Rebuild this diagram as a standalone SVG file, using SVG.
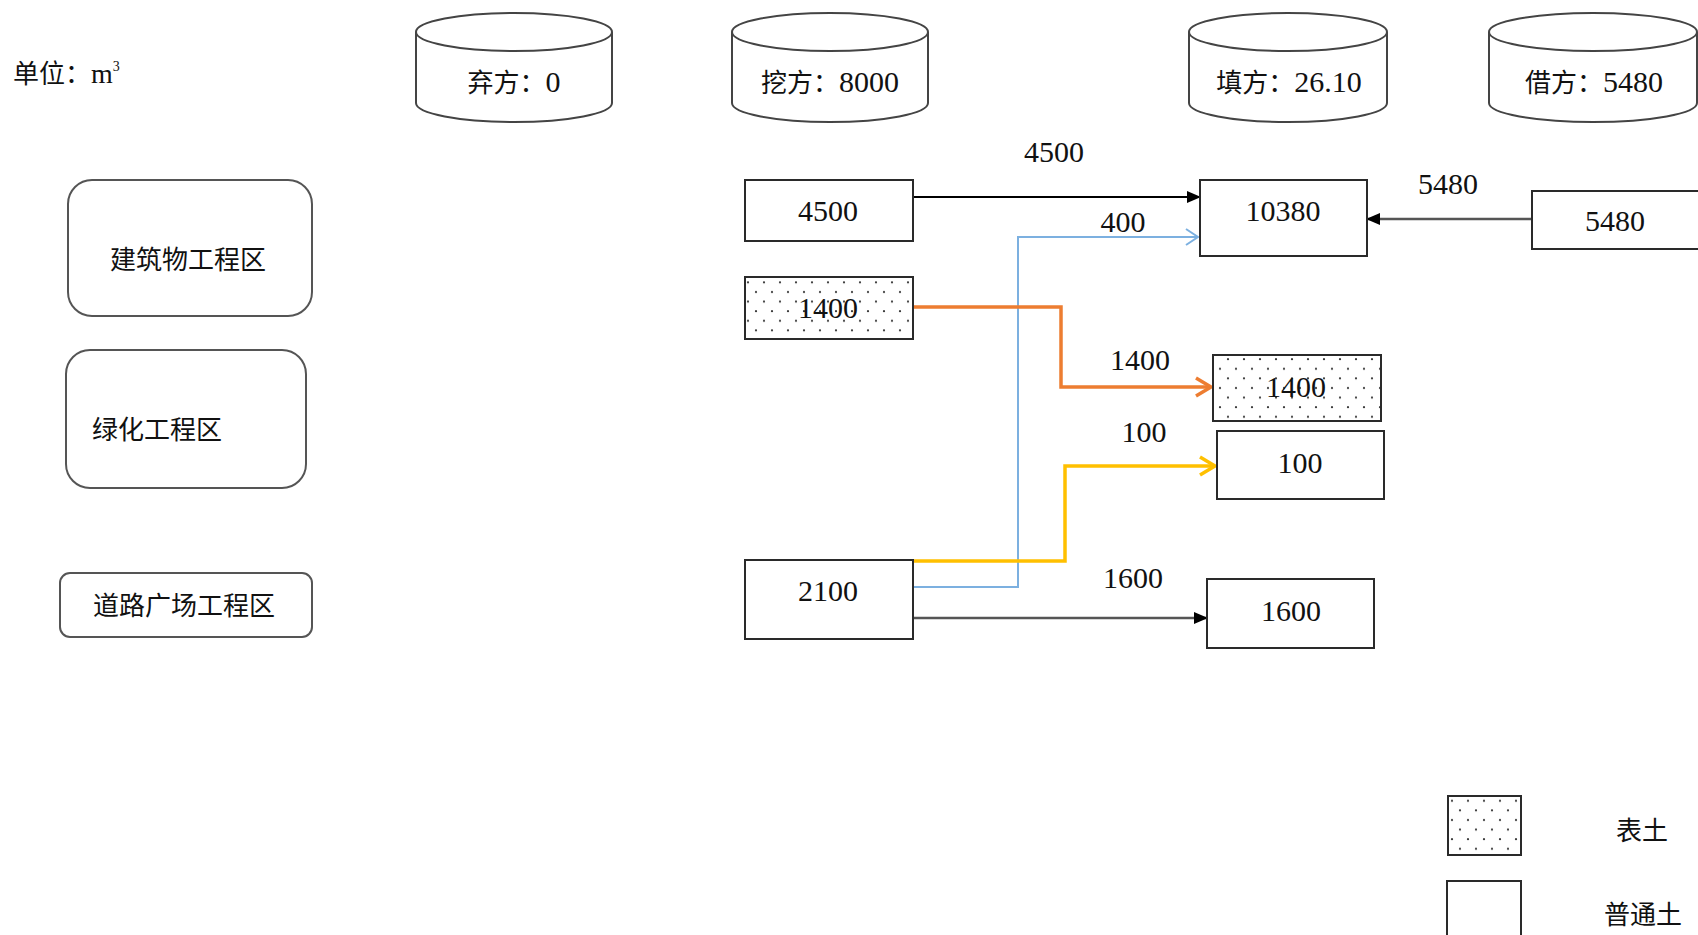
<svg xmlns="http://www.w3.org/2000/svg" width="1698" height="935" viewBox="0 0 1698 935">
<style>
.t{font-family:"Liberation Serif","Noto Sans CJK SC",serif;fill:#111;}
.n{font-size:30px;text-anchor:middle;}
.c{font-size:26px;}
.d{font-size:30px;}
.box{fill:#fff;stroke:#2a2a2a;stroke-width:2;}
.dot{fill:url(#dots);stroke:#2a2a2a;stroke-width:2;}
.rr{fill:#fff;stroke:#555;stroke-width:2;}
.cyl{fill:#fff;stroke:#444;stroke-width:2;}
</style>
<defs>
<pattern id="dots" width="16" height="19.2" patternUnits="userSpaceOnUse">
<rect width="16" height="19.2" fill="#fff"/>
<circle cx="4" cy="4" r="1.1" fill="#333"/>
<circle cx="12" cy="13.6" r="1.1" fill="#333"/>
</pattern>
<marker id="fa" markerWidth="14" markerHeight="14" refX="13" refY="7" orient="auto" markerUnits="userSpaceOnUse">
<path d="M0,1 L14,7 L0,13 Z" fill="#000"/>
</marker>
<marker id="ob" markerWidth="16" markerHeight="20" refX="14" refY="10" orient="auto" markerUnits="userSpaceOnUse">
<path d="M2,2 L14,10 L2,18" fill="none" stroke="#7CB0E0" stroke-width="2"/>
</marker>
<marker id="oo" markerWidth="20" markerHeight="22" refX="17" refY="11" orient="auto" markerUnits="userSpaceOnUse">
<path d="M2,2 L17,11 L2,20" fill="none" stroke="#ED7D31" stroke-width="3.5"/>
</marker>
<marker id="oy" markerWidth="20" markerHeight="22" refX="17" refY="11" orient="auto" markerUnits="userSpaceOnUse">
<path d="M2,2 L17,11 L2,20" fill="none" stroke="#FFC000" stroke-width="3.5"/>
</marker>
</defs>
<rect width="1698" height="935" fill="#fff"/>

<g id="unit"><text class="t c" x="13" y="83">单位：<tspan font-size="28">m</tspan><tspan font-size="14" dy="-12">3</tspan></text></g>

<g id="cyl-qi"><path class="cyl" d="M416,32 L416,103 A98,19 0 0,0 612,103 L612,32 A98,19 0 0,0 416,32 A98,19 0 0,0 612,32"/><text class="t c" x="514" y="92" text-anchor="middle">弃方：<tspan class="d">0</tspan></text></g>
<g id="cyl-wa"><path class="cyl" d="M732,32 L732,103 A98,19 0 0,0 928,103 L928,32 A98,19 0 0,0 732,32 A98,19 0 0,0 928,32"/><text class="t c" x="830" y="92" text-anchor="middle">挖方：<tspan class="d">8000</tspan></text></g>
<g id="cyl-tian"><path class="cyl" d="M1189,32 L1189,103 A99,19 0 0,0 1387,103 L1387,32 A99,19 0 0,0 1189,32 A99,19 0 0,0 1387,32"/><text class="t c" x="1289" y="92" text-anchor="middle">填方：<tspan class="d">26.10</tspan></text></g>
<g id="cyl-jie"><path class="cyl" d="M1489,32 L1489,103 A104,19 0 0,0 1697,103 L1697,32 A104,19 0 0,0 1489,32 A104,19 0 0,0 1697,32"/><text class="t c" x="1594" y="92" text-anchor="middle">借方：<tspan class="d">5480</tspan></text></g>

<g id="zone-building"><rect class="rr" x="68" y="180" width="244" height="136" rx="24"/><text class="t c" x="188" y="269" text-anchor="middle">建筑物工程区</text></g>
<g id="zone-green"><rect class="rr" x="66" y="350" width="240" height="138" rx="24"/><text class="t c" x="92" y="439">绿化工程区</text></g>
<g id="zone-road"><rect class="rr" x="60" y="573" width="252" height="64" rx="10"/><text class="t c" x="184" y="615" text-anchor="middle">道路广场工程区</text></g>

<g id="connectors" fill="none">
<line x1="913" y1="197" x2="1200" y2="197" stroke="#000" stroke-width="2" marker-end="url(#fa)"/>
<line x1="1532" y1="219" x2="1367" y2="219" stroke="#555" stroke-width="2.5" marker-end="url(#fa)"/>
<polyline points="913,587 1018,587 1018,237 1198,237" stroke="#7CB0E0" stroke-width="2" marker-end="url(#ob)"/>
<polyline points="913,307 1061,307 1061,387 1211,387" stroke="#ED7D31" stroke-width="3.5" marker-end="url(#oo)"/>
<polyline points="913,561 1065,561 1065,466 1215,466" stroke="#FFC000" stroke-width="3.5" marker-end="url(#oy)"/>
<line x1="913" y1="618" x2="1207" y2="618" stroke="#555" stroke-width="2.5" marker-end="url(#fa)"/>
<text class="t n" x="1054" y="162">4500</text>
<text class="t n" x="1448" y="194">5480</text>
<text class="t n" x="1123" y="232">400</text>
<text class="t n" x="1140" y="370">1400</text>
<text class="t n" x="1144" y="442">100</text>
<text class="t n" x="1133" y="588">1600</text>
</g>

<g id="src-4500"><rect class="box" x="745" y="180" width="168" height="61"/><text class="t n" x="828" y="221">4500</text></g>
<g id="src-1400"><rect class="dot" x="745" y="277" width="168" height="62"/><text class="t n" x="828" y="318">1400</text></g>
<g id="src-2100"><rect class="box" x="745" y="560" width="168" height="79"/><text class="t n" x="828" y="601">2100</text></g>
<g id="dst-10380"><rect class="box" x="1200" y="180" width="167" height="76"/><text class="t n" x="1283" y="221">10380</text></g>
<g id="dst-1400"><rect class="dot" x="1213" y="355" width="168" height="66"/><text class="t n" x="1296" y="397">1400</text></g>
<g id="dst-100"><rect class="box" x="1217" y="431" width="167" height="68"/><text class="t n" x="1300" y="473">100</text></g>
<g id="dst-1600"><rect class="box" x="1207" y="579" width="167" height="69"/><text class="t n" x="1291" y="621">1600</text></g>
<g id="src-5480"><rect class="box" x="1532" y="191" width="180" height="58"/><text class="t n" x="1615" y="231">5480</text></g>

<g id="legend-topsoil"><rect class="dot" x="1448" y="796" width="73" height="59"/><text class="t c" x="1642" y="840" text-anchor="middle">表土</text></g>
<g id="legend-soil"><rect class="box" x="1447" y="881" width="74" height="70"/><text class="t c" x="1643" y="924" text-anchor="middle">普通土</text></g>
</svg>
